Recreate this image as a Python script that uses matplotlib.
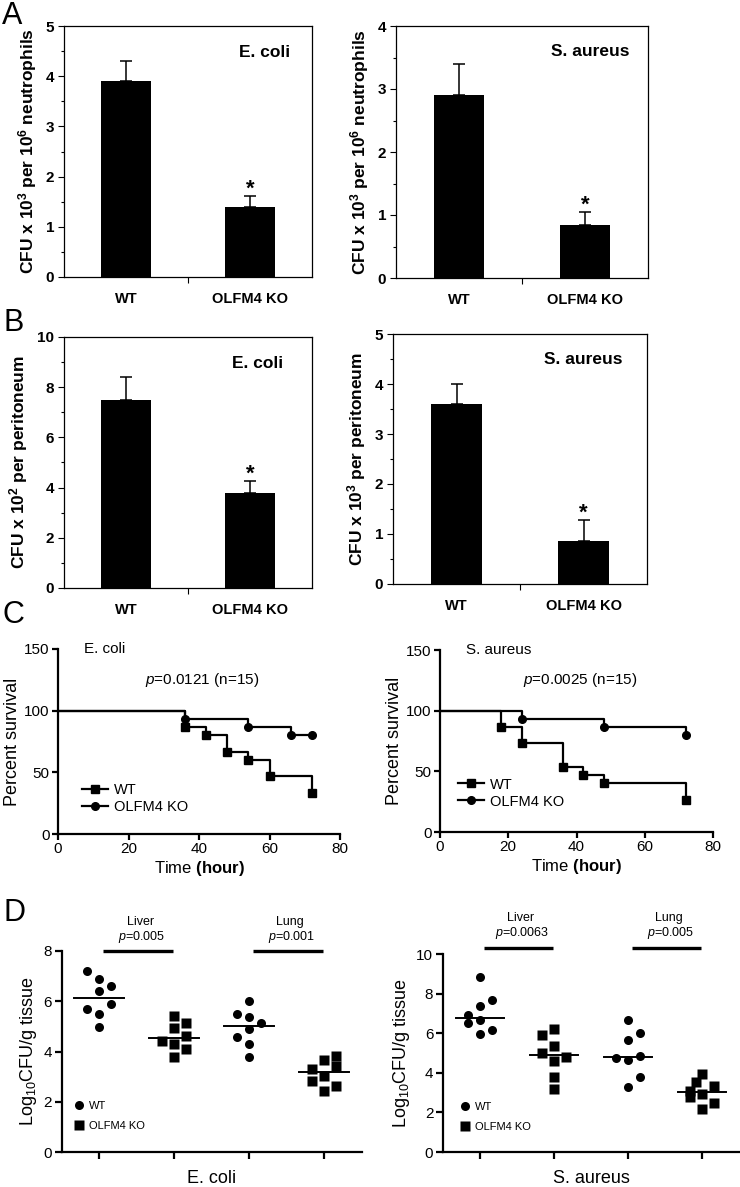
import numpy as np
import matplotlib
matplotlib.use("Agg")
import matplotlib.pyplot as plt
from matplotlib.lines import Line2D

plt.rcParams['font.family'] = ['Liberation Sans', 'DejaVu Sans']
plt.rcParams['mathtext.fontset'] = 'custom'
plt.rcParams['mathtext.rm'] = 'Liberation Sans'
plt.rcParams['mathtext.it'] = 'Liberation Sans:italic'
plt.rcParams['mathtext.bf'] = 'Liberation Sans:bold'

# ---- data ----
groups = ['WT', 'OLFM4 KO']

# A: killing by neutrophils
a_ecoli_mean = [3.9, 1.4]
a_ecoli_err = [0.4, 0.21]
a_saureus_mean = [2.9, 0.84]
a_saureus_err = [0.49, 0.21]

# B: bacteria in peritoneum
b_ecoli_mean = [7.5, 3.77]
b_ecoli_err = [0.9, 0.48]
b_saureus_mean = [3.6, 0.85]
b_saureus_err = [0.41, 0.42]

# C: survival (Kaplan-Meier)
c_ecoli_wt_t = [0, 36, 42, 48, 54, 60, 72]
c_ecoli_wt_s = [100, 86.7, 80, 66.7, 60, 46.7, 33.3]
c_ecoli_ko_t = [0, 36, 54, 66, 72]
c_ecoli_ko_s = [100, 93.3, 86.7, 80, 80]
c_saureus_wt_t = [0, 18, 24, 36, 42, 48, 72]
c_saureus_wt_s = [100, 86.7, 73.3, 53.3, 46.7, 40, 26.7]
c_saureus_ko_t = [0, 24, 48, 72]
c_saureus_ko_s = [100, 93.3, 86.7, 80]

# D: log10 CFU / g tissue (liver WT, liver KO, lung WT, lung KO)
d_ecoli = [
    [7.19, 6.87, 6.59, 6.39, 5.90, 5.71, 5.51, 4.98],
    [5.41, 5.12, 4.92, 4.63, 4.42, 4.30, 4.10, 3.80],
    [6.00, 5.51, 5.38, 5.12, 4.88, 4.59, 4.29, 3.80],
    [3.83, 3.65, 3.41, 3.32, 3.01, 2.81, 2.61, 2.41],
]
d_saureus = [
    [8.86, 7.67, 7.38, 6.91, 6.67, 6.50, 6.17, 5.98],
    [6.20, 5.90, 5.36, 5.02, 4.80, 4.60, 3.79, 3.17],
    [6.67, 6.00, 5.66, 4.85, 4.77, 4.65, 3.79, 3.29],
    [3.93, 3.54, 3.32, 3.10, 2.92, 2.78, 2.45, 2.19],
]
d_ecoli_p = ['0.005', '0.001']
d_saureus_p = ['0.0063', '0.005']

# column layout for the dot plots (-1 left, 0 centre, 1 right)
d_ecoli_cols = [
    [-1, 0, 1, 0, 1, -1, 0, 0],
    [0, 1, 0, 1, -1, 0, 1, 0],
    [0, -1, 0, 1, 0, -1, 0, 0],
    [1, 0, 1, -1, 0, -1, 1, 0],
]
d_saureus_cols = [
    [0, 1, 0, -1, 0, -1, 1, 0],
    [0, -1, 0, -1, 1, 0, 0, 0],
    [0, 1, 0, 1, -1, 0, 1, 0],
    [0, -0.5, 1, -1, 0, -1, 1, 0],
]

W, H = 740, 1187
fig = plt.figure(figsize=(W / 100, H / 100), dpi=100)


def box(x0, y0, x1, y1):
    # pixel box (top-left origin) -> figure fraction
    return [x0 / W, 1 - y1 / H, (x1 - x0) / W, (y1 - y0) / H]


def bar_panel(ax, means, errs, ymax, major, minor, title, title_xy, ylabel):
    x = np.array([0.5, 1.5])
    ax.bar(x, means, width=0.4, color='black')
    ax.errorbar(x, means, yerr=[np.zeros(2), errs], fmt='none', ecolor='black',
                capsize=4.5, elinewidth=1.1, capthick=1.1)
    ax.annotate('*', (x[1], means[1] + errs[1]), xytext=(0, 1), textcoords='offset points',
                ha='center', va='baseline', fontsize=16, fontweight='bold')
    ax.set_xlim(0, 2)
    ax.set_ylim(0, ymax)
    ax.set_yticks(np.arange(0, ymax + 0.01, major))
    ax.set_yticks(np.arange(0, ymax + 0.01, minor), minor=True)
    ax.set_xticks(x)
    ax.set_xticklabels(groups, fontsize=10.5, fontweight='bold')
    ax.set_xticks([1], minor=True)
    ax.tick_params(axis='x', which='major', length=0, pad=11)
    ax.tick_params(axis='x', which='minor', length=4, width=0.8)
    ax.tick_params(axis='y', which='major', length=4, width=0.8, labelsize=11, pad=3)
    ax.tick_params(axis='y', which='minor', length=2, width=0.8)
    for lab in ax.get_yticklabels():
        lab.set_fontweight('bold')
    for s in ax.spines.values():
        s.set_linewidth(0.9)
    ax.text(title_xy[0], title_xy[1], title, fontsize=12.5, fontweight='bold', ha='center', va='center')
    ax.set_ylabel(ylabel, fontsize=12.5, fontweight='bold', labelpad=5)


ylab_a = r'CFU x 10$^\mathbf{3}$ per 10$^\mathbf{6}$ neutrophils'
ax = fig.add_axes(box(64, 26, 312, 277))
bar_panel(ax, a_ecoli_mean, a_ecoli_err, 5, 1, 0.5, 'E. coli', (1.62, 4.48), ylab_a)
ax = fig.add_axes(box(396, 26, 648, 278))
bar_panel(ax, a_saureus_mean, a_saureus_err, 4, 1, 0.5, 'S. aureus', (1.54, 3.59), ylab_a)
ax = fig.add_axes(box(64, 337, 312, 588))
bar_panel(ax, b_ecoli_mean, b_ecoli_err, 10, 2, 1, 'E. coli', (1.56, 8.96),
          r'CFU x 10$^\mathbf{2}$ per peritoneum')
ax = fig.add_axes(box(393, 334, 647, 584))
bar_panel(ax, b_saureus_mean, b_saureus_err, 5, 1, 0.5, 'S. aureus', (1.5, 4.48),
          r'CFU x 10$^\mathbf{3}$ per peritoneum')


def survival_panel(ax, wt_t, wt_s, ko_t, ko_s, title, ptext, leg_xy):
    ax.step(wt_t, wt_s, where='post', color='black', lw=1.6)
    ax.plot(wt_t[1:], wt_s[1:], 's', color='black', ms=5.5)
    ax.step(ko_t, ko_s, where='post', color='black', lw=1.6)
    ax.plot(ko_t[1:], ko_s[1:], 'o', color='black', ms=5.5)
    ax.set_xlim(0, 80)
    ax.set_ylim(0, 150)
    ax.set_xticks([0, 20, 40, 60, 80])
    ax.set_yticks([0, 50, 100, 150])
    ax.spines['top'].set_visible(False)
    ax.spines['right'].set_visible(False)
    ax.spines['left'].set_linewidth(1.6)
    ax.spines['bottom'].set_linewidth(1.6)
    ax.tick_params(length=4, width=1.6, labelsize=11, pad=2)
    ax.text(7.5, 150, title, fontsize=11, ha='left', va='center')
    ax.text(41, 125, ptext, fontsize=11, ha='center', va='center')
    ax.set_ylabel('Percent survival', fontsize=13, labelpad=2)
    ax.set_xlabel(r'Time $\mathbf{(hour)}$', fontsize=12, labelpad=2)
    handles = [Line2D([], [], color='black', lw=1.6, marker='s', ms=5.5),
               Line2D([], [], color='black', lw=1.6, marker='o', ms=5.5)]
    ax.legend(handles, groups, loc='center left', bbox_to_anchor=leg_xy, frameon=False,
              fontsize=10.5, handlelength=1.8, handletextpad=0.4, labelspacing=0.2,
              borderaxespad=0, borderpad=0)


ax = fig.add_axes(box(58, 649, 340, 834))
survival_panel(ax, c_ecoli_wt_t, c_ecoli_wt_s, c_ecoli_ko_t, c_ecoli_ko_s, 'E. coli',
               r'$\mathit{p}$=0.0121 (n=15)', (0.085, 0.19))
ax = fig.add_axes(box(440, 650, 713, 832))
survival_panel(ax, c_saureus_wt_t, c_saureus_wt_s, c_saureus_ko_t, c_saureus_ko_s, 'S. aureus',
               r'$\mathit{p}$=0.0025 (n=15)', (0.066, 0.214))


def dot_panel(ax, vals, cols, pvals, ymax, bar_y, txt_y, title, leg_xy):
    marks = ['o', 's', 'o', 's']
    for i, (v, c) in enumerate(zip(vals, cols)):
        xc = 0.5 + i
        ax.plot(xc + 0.16 * np.array(c), v, marks[i], color='black', ms=6.5, mec='none', clip_on=False)
        m = np.median(v)
        ax.plot([xc - 0.33, xc + 0.33], [m, m], color='black', lw=1.4)
    for k, name in enumerate(['Liver', 'Lung']):
        x0 = 2 * k + 0.55
        ax.plot([x0, x0 + 0.93], [bar_y, bar_y], color='black', lw=2.4, clip_on=False,
                solid_capstyle='butt')
        ax.text(x0 + 0.5, txt_y[0], name, fontsize=9, ha='center', va='center')
        ax.text(x0 + 0.52, txt_y[1], r'$\mathit{p}$=' + pvals[k], fontsize=9, ha='center', va='center')
    ax.set_xlim(0, 4)
    ax.set_ylim(0, ymax)
    ax.set_yticks(np.arange(0, ymax + 0.01, 2))
    ax.set_xticks([0.5, 1.5, 2.5, 3.5])
    ax.set_xticklabels([])
    ax.spines['top'].set_visible(False)
    ax.spines['right'].set_visible(False)
    ax.spines['left'].set_linewidth(1.6)
    ax.spines['bottom'].set_linewidth(1.6)
    ax.tick_params(length=5, width=1.6, labelsize=11, pad=2)
    ax.set_ylabel(r'Log$_{10}$CFU/g tissue', fontsize=13, labelpad=3)
    ax.set_xlabel(title, fontsize=13, labelpad=6)
    handles = [Line2D([], [], color='black', marker='o', ls='none', ms=6.5, mec='none'),
               Line2D([], [], color='black', marker='s', ls='none', ms=6.5, mec='none')]
    ax.legend(handles, groups, loc='center left', bbox_to_anchor=leg_xy, frameon=False,
              fontsize=8, handlelength=0.8, handletextpad=0.5, labelspacing=0.9,
              borderaxespad=0, borderpad=0)


ax = fig.add_axes(box(61.5, 951, 361.5, 1152))
dot_panel(ax, d_ecoli, d_ecoli_cols, d_ecoli_p, 8, 8.0, (9.17, 8.57), 'E. coli', (0.045, 0.18))
ax = fig.add_axes(box(443, 954, 739, 1152))
dot_panel(ax, d_saureus, d_saureus_cols, d_saureus_p, 10, 10.3, (11.8, 11.06), 'S. aureus', (0.058, 0.177))

# panel letters
for letter, (px, py) in zip('ABCD', [(2, 1), (4, 308), (3, 600), (3, 898)]):
    fig.text(px / W, 1 - py / H, letter, fontsize=22, ha='left', va='top')

fig.savefig('out.png', dpi=100)
